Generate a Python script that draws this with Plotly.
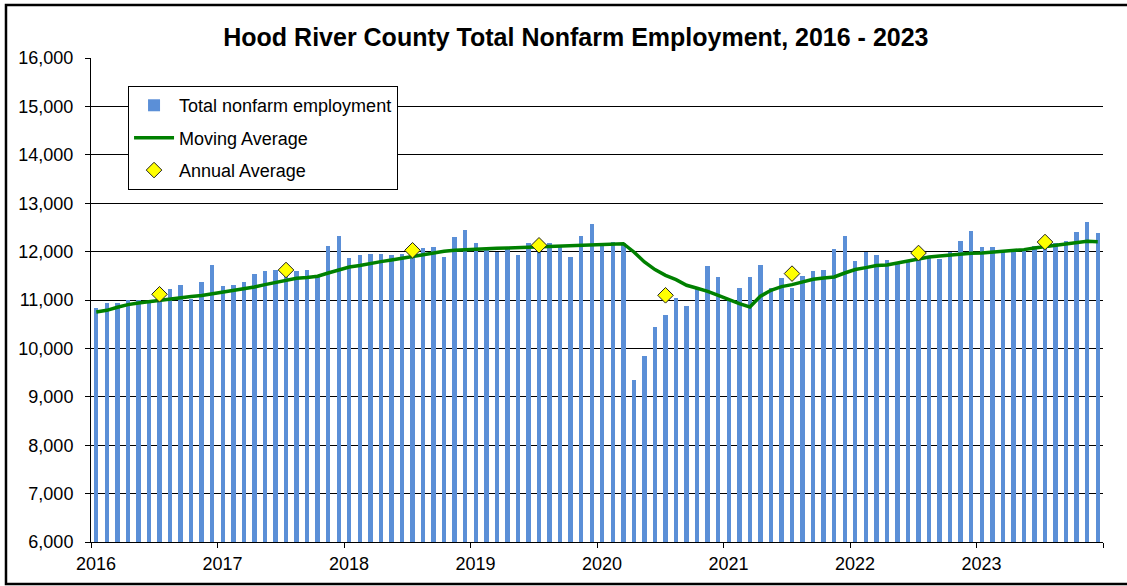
"""Hood River County total nonfarm employment, monthly 2016-2023."""

import plotly.graph_objects as go

# --- data ---
years = ["2016", "2017", "2018", "2019", "2020", "2021", "2022", "2023"]

employment = [
    10830, 10930, 10930, 11010, 11000, 10980, 11100, 11230, 11310, 11020, 11370, 11720,  # 2016
    11280, 11320, 11380, 11530, 11600, 11610, 11600, 11600, 11610, 11480, 12120, 12320,  # 2017
    11870, 11920, 11950, 11950, 11940, 11950, 11980, 12075, 12095, 11880, 12300, 12440,  # 2018
    12180, 12030, 12000, 12060, 11920, 12180, 12150, 12180, 12100, 11880, 12320, 12580,  # 2019
    12180, 12190, 12170, 9340, 9850, 10450, 10680, 11050, 10880, 11230, 11700, 11470,    # 2020
    10990, 11240, 11480, 11730, 11240, 11450, 11240, 11500, 11590, 11610, 12050, 12320,  # 2021
    11810, 11990, 11940, 11830, 11780, 11820, 11900, 11890, 11840, 11990, 12210, 12430,  # 2022
    12100, 12100, 11990, 12060, 12060, 12120, 12150, 12180, 12210, 12400, 12620, 12390,  # 2023
]

moving_avg = [
    10753, 10787, 10849, 10905, 10938, 10967, 10994, 11029, 11050, 11070, 11091, 11124,
    11165, 11194, 11228, 11269, 11318, 11366, 11414, 11448, 11463, 11490, 11558, 11628,
    11682, 11711, 11758, 11793, 11827, 11862, 11903, 11944, 11979, 12006, 12027, 12041,
    12055, 12062, 12068, 12075, 12082, 12089, 12103, 12110, 12117, 12117, 12124, 12137,
    12144, 12157, 12164, 11992, 11786, 11628, 11510, 11421, 11304, 11242, 11180, 11097,
    11008, 10926, 10856, 11077, 11200, 11277, 11318, 11372, 11428, 11455, 11476, 11558,
    11630, 11669, 11711, 11724, 11765, 11806, 11855, 11889, 11910, 11931, 11952, 11965,
    11972, 11986, 12000, 12013, 12041, 12075, 12103, 12131, 12151, 12178, 12213, 12206,
]

annual_avg = [11118, 11620, 12027, 12130, 11097, 11545, 11971, 12198]

months = list(range(len(employment)))
july_idx = [12 * i + 6 for i in range(len(years))]

FONT = "Arial, 'Liberation Sans', sans-serif"

fig = go.Figure()

fig.add_trace(go.Bar(
    x=months, y=employment,
    name="Total nonfarm employment",
    marker=dict(color="#5B8FD7", line=dict(width=0)),
    width=0.42,
    legendgroup="a",
))

fig.add_trace(go.Scatter(
    x=months, y=moving_avg,
    name="Moving Average",
    mode="lines",
    line=dict(color="#008000", width=3.5),
    legendgroup="b",
))

fig.add_trace(go.Scatter(
    x=july_idx, y=annual_avg,
    name="Annual Average",
    mode="markers",
    marker=dict(symbol="diamond", size=12, color="#FFFF00",
                line=dict(color="#222222", width=1)),
    legendgroup="c",
))

# year ticks sit on the boundaries between categories, labels on January
boundaries = [12 * i - 0.5 for i in range(len(years) + 1)]

fig.update_layout(
    width=1127, height=586,
    margin=dict(l=91, r=24, t=58, b=44),
    paper_bgcolor="white",
    plot_bgcolor="white",
    font=dict(family=FONT, size=18, color="black"),
    title=dict(
        text="<b>Hood River County Total Nonfarm Employment, 2016 - 2023</b>",
        x=0.511, xanchor="center",
        y=0.937, yanchor="middle",
        font=dict(family=FONT, size=25, color="black"),
    ),
    bargap=0,
    showlegend=True,
    legend=dict(
        x=0.0366, xanchor="left",
        y=0.942, yanchor="top",
        bgcolor="white",
        bordercolor="black",
        borderwidth=1,
        traceorder="grouped",
        tracegroupgap=6,
        itemwidth=40,
        entrywidth=287,
        font=dict(family=FONT, size=18, color="black"),
    ),
    xaxis=dict(
        range=[-0.5, 95.5],
        tickmode="array",
        tickvals=boundaries,
        ticktext=years + [""],
        ticklabelshift=5,
        ticks="outside", ticklen=5, tickcolor="black",
        showgrid=False,
        showline=True, linecolor="black", linewidth=1,
        zeroline=False,
    ),
    yaxis=dict(
        range=[6000, 16000],
        dtick=1000,
        tickformat=",d",
        ticks="outside", ticklen=5, tickcolor="black",
        ticklabelstandoff=8,
        showgrid=True, gridcolor="black", gridwidth=1,
        showline=True, linecolor="black", linewidth=1,
        zeroline=False,
    ),
    shapes=[dict(
        type="rect", xref="paper", yref="paper",
        x0=-0.084, x1=1.04, y0=-0.087, y1=1.1095,
        line=dict(color="black", width=2.5),
        fillcolor="rgba(0,0,0,0)",
        layer="above",
    )],
)

# page body has a default 8px margin; drop it so the chart sits at the origin
fig.write_html(
    "out.html",
    config={"displayModeBar": False},
    post_script="document.body.style.margin = '0';",
)
